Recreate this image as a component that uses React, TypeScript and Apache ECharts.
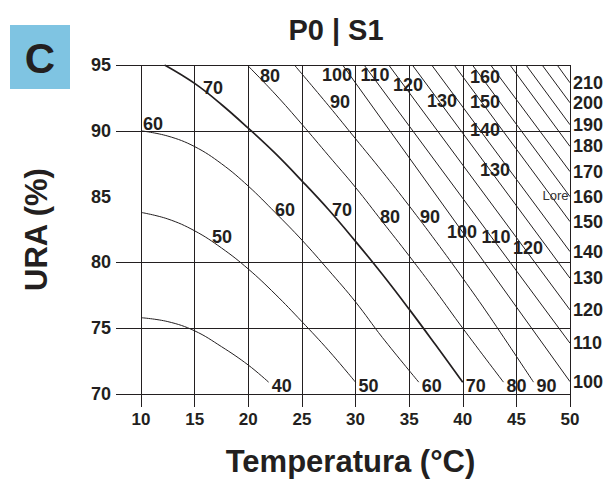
import { useEffect, useRef } from "react";
import * as echarts from "echarts";

// ---------- data ----------
const xTickValues = [10, 15, 20, 25, 30, 35, 40, 45, 50];
const yTickValues = [70, 75, 80, 85, 90, 95];
const yGridShown = [true, true, true, false, true, true];

// isolines: [Temperatura °C, URA %]
const iso40 = [[10, 75.8], [12.5, 75.5], [15, 74.8], [17.5, 73.6], [20, 72.2], [21.9, 70.9]];
const iso50 = [[10, 83.8], [12.5, 83.3], [15, 82.4], [17.5, 81.1], [20, 79.5], [22.5, 77.6], [25, 75.5], [27.5, 73.3], [30, 70.9]];
const iso60 = [[10, 90.0], [12.5, 89.6], [15, 88.8], [17.5, 87.5], [20, 85.8], [22.5, 83.8], [25, 81.7], [27.5, 79.4], [30, 77.0], [32.5, 74.3], [35.9, 70.9]];
const iso70 = [[12.2, 95], [15, 93.6], [17.5, 92.0], [20, 90.2], [22.5, 88.3], [25, 86.2], [27.5, 84.0], [30, 81.6], [32.5, 79.1], [35, 76.45], [37.5, 73.7], [40, 70.9]];
const iso80 = [[19.9, 95], [22.5, 92.8], [25, 90.5], [27.5, 88.1], [30, 85.7], [32.5, 83.1], [35, 80.5], [37.5, 77.8], [40, 75.0], [43.8, 70.9]];
const iso90 = [[24.3, 95], [27.5, 91.9], [30, 89.4], [32.5, 86.9], [35, 84.3], [37.5, 81.6], [40, 78.8], [42.5, 75.9], [46.6, 70.9]];
const iso100 = [[28.8, 95], [50, 70.94]];
const iso110 = [[30.8, 95], [50, 73.86]];
const iso120 = [[33.1, 95], [50, 76.39]];
const iso130 = [[35.3, 95], [50, 78.8]];
const iso140 = [[37.1, 95], [50, 80.82]];
const iso150 = [[39.2, 95], [50, 83.1]];
const iso160 = [[40.9, 95], [50, 85.0]];
const iso170 = [[42.6, 95], [50, 86.9]];
const iso180 = [[44.4, 95], [50, 88.81]];
const iso190 = [[45.9, 95], [50, 90.46]];
const iso200 = [[47.4, 95], [50, 92.13]];
const iso210 = [[48.8, 95], [50, 93.65]];

const isoNames = ["40", "50", "60", "70", "80", "90", "100", "110", "120", "130", "140", "150", "160", "170", "180", "190", "200", "210"];
const isoData = [iso40, iso50, iso60, iso70, iso80, iso90, iso100, iso110, iso120, iso130, iso140, iso150, iso160, iso170, iso180, iso190, iso200, iso210];
const endsAtBottom = ["40", "50", "60", "70", "80", "90"];

// labels written on the isolines: [T, URA, text]
const lineLabels: [number, number, string][] = [
  [11.12, 90.53, "60"],
  [16.71, 93.27, "70"],
  [22.03, 94.18, "80"],
  [28.55, 92.21, "90"],
  [28.28, 94.26, "100"],
  [31.82, 94.26, "110"],
  [34.9, 93.5, "120"],
  [38.07, 92.28, "130"],
  [42.07, 90.08, "140"],
  [42.07, 92.21, "150"],
  [42.07, 94.11, "160"],
  [43.0, 87.03, "130"],
  [17.55, 81.94, "50"],
  [23.43, 83.99, "60"],
  [28.74, 83.99, "70"],
  [33.22, 83.46, "80"],
  [36.95, 83.46, "90"],
  [39.93, 82.32, "100"],
  [43.1, 81.94, "110"],
  [46.08, 81.1, "120"],
];
const noteText = "Lore";
const notePoint = [50, 85.05];

const titleText = "P0 | S1";
const panelLetter = "C";
const xName = "Temperatura (°C)";
const yName = "URA (%)";

// ---------- chart ----------
const FONT = "'Liberation Sans', Arial, Helvetica, sans-serif";
const INK = "#231f20";
const X_EXT_MIN = 10 - 25 / 10.725;

export default function App() {
  const ref = useRef<HTMLDivElement>(null);
  useEffect(() => {
    if (!ref.current) return;
    const chart = echarts.init(ref.current, null, { renderer: "svg" });

    const isoSeries = isoNames.map((name, i) => ({
      type: "line",
      name,
      data: isoData[i],
      xAxisIndex: 0,
      yAxisIndex: 0,
      symbol: "none",
      showSymbol: false,
      smooth: isoData[i].length > 2 ? 0.4 : false,
      silent: true,
      lineStyle: { color: INK, width: name === "70" ? 1.7 : 1 },
      endLabel: {
        show: true,
        formatter: "{a}",
        fontSize: 18,
        fontWeight: "bold",
        color: INK,
        fontFamily: FONT,
        distance: 3,
        offset: endsAtBottom.includes(name) ? [0, 4] : [0, 0],
      },
      z: 3,
    }));

    const option: any = {
      animation: false,
      backgroundColor: "#ffffff",
      textStyle: { fontFamily: FONT },
      grid: [
        { left: 116, right: 35, top: 65, bottom: 88 },
        { left: 141, right: 35, top: 65, bottom: 88 },
      ],
      xAxis: [
        { gridIndex: 0, type: "value", min: X_EXT_MIN, max: 50, show: false },
        {
          gridIndex: 1,
          type: "value",
          min: xTickValues[0],
          max: xTickValues[xTickValues.length - 1],
          interval: 5,
          axisLine: { show: false },
          axisTick: { show: true, length: 13, lineStyle: { color: INK, width: 1 } },
          splitLine: { show: true, lineStyle: { color: INK, width: 1 } },
          axisLabel: { fontSize: 17, fontWeight: "bold", color: INK, margin: 17, fontFamily: FONT },
          name: xName,
          nameLocation: "middle",
          nameGap: 52,
          nameTextStyle: {
            fontSize: 31,
            fontWeight: "bold",
            color: INK,
            fontFamily: FONT,
            padding: [0, 10, 0, 0],
          },
        },
      ],
      yAxis: [
        {
          gridIndex: 0,
          type: "value",
          min: yTickValues[0],
          max: yTickValues[yTickValues.length - 1],
          interval: 5,
          axisLine: { show: false },
          axisTick: { show: false },
          axisLabel: { fontSize: 18, fontWeight: "bold", color: INK, margin: 5, fontFamily: FONT },
          splitLine: {
            show: true,
            lineStyle: { color: yGridShown.map((s) => (s ? INK : "rgba(0,0,0,0)")), width: 1 },
          },
          name: yName,
          nameLocation: "middle",
          nameGap: 64,
          nameRotate: 90,
          nameTextStyle: { fontSize: 31, fontWeight: "bold", color: INK, fontFamily: FONT },
        },
        { gridIndex: 1, type: "value", min: 70, max: 95, show: false },
      ],
      graphic: [
        {
          type: "rect",
          shape: { x: 10, y: 25, width: 60, height: 64 },
          style: { fill: "#7fc4e2" },
        },
        {
          type: "text",
          x: 40,
          y: 58,
          style: {
            text: panelLetter,
            fontSize: 42,
            fontWeight: "bold",
            fill: INK,
            fontFamily: FONT,
            textAlign: "center",
            textVerticalAlign: "middle",
          },
        },
        {
          type: "text",
          x: 336,
          y: 30,
          style: {
            text: titleText,
            fontSize: 29,
            fontWeight: "bold",
            fill: INK,
            fontFamily: FONT,
            textAlign: "center",
            textVerticalAlign: "middle",
          },
        },
      ],
      series: [
        ...isoSeries,
        {
          type: "scatter",
          xAxisIndex: 0,
          yAxisIndex: 0,
          data: lineLabels,
          symbol: "circle",
          symbolSize: 1,
          itemStyle: { color: "rgba(255,255,255,0)", opacity: 1 },
          silent: true,
          z: 4,
          label: {
            show: true,
            position: "inside",
            formatter: (p: any) => p.value[2],
            fontSize: 18,
            fontWeight: "bold",
            color: INK,
            opacity: 1,
            textBorderWidth: 0,
            fontFamily: FONT,
          },
        },
        {
          type: "scatter",
          xAxisIndex: 0,
          yAxisIndex: 0,
          data: [notePoint],
          symbol: "circle",
          symbolSize: 1,
          itemStyle: { color: "rgba(255,255,255,0)", opacity: 1 },
          silent: true,
          z: 4,
          label: {
            show: true,
            position: "left",
            distance: 1,
            formatter: noteText,
            fontSize: 13,
            color: "#333",
            opacity: 1,
            fontFamily: FONT,
          },
        },
      ],
    };
    chart.setOption(option);
    return () => chart.dispose();
  }, []);
  return (
    <div
      ref={ref}
      style={{ position: "absolute", left: 0, top: 0, width: 605, height: 482, background: "#fff" }}
    />
  );
}
